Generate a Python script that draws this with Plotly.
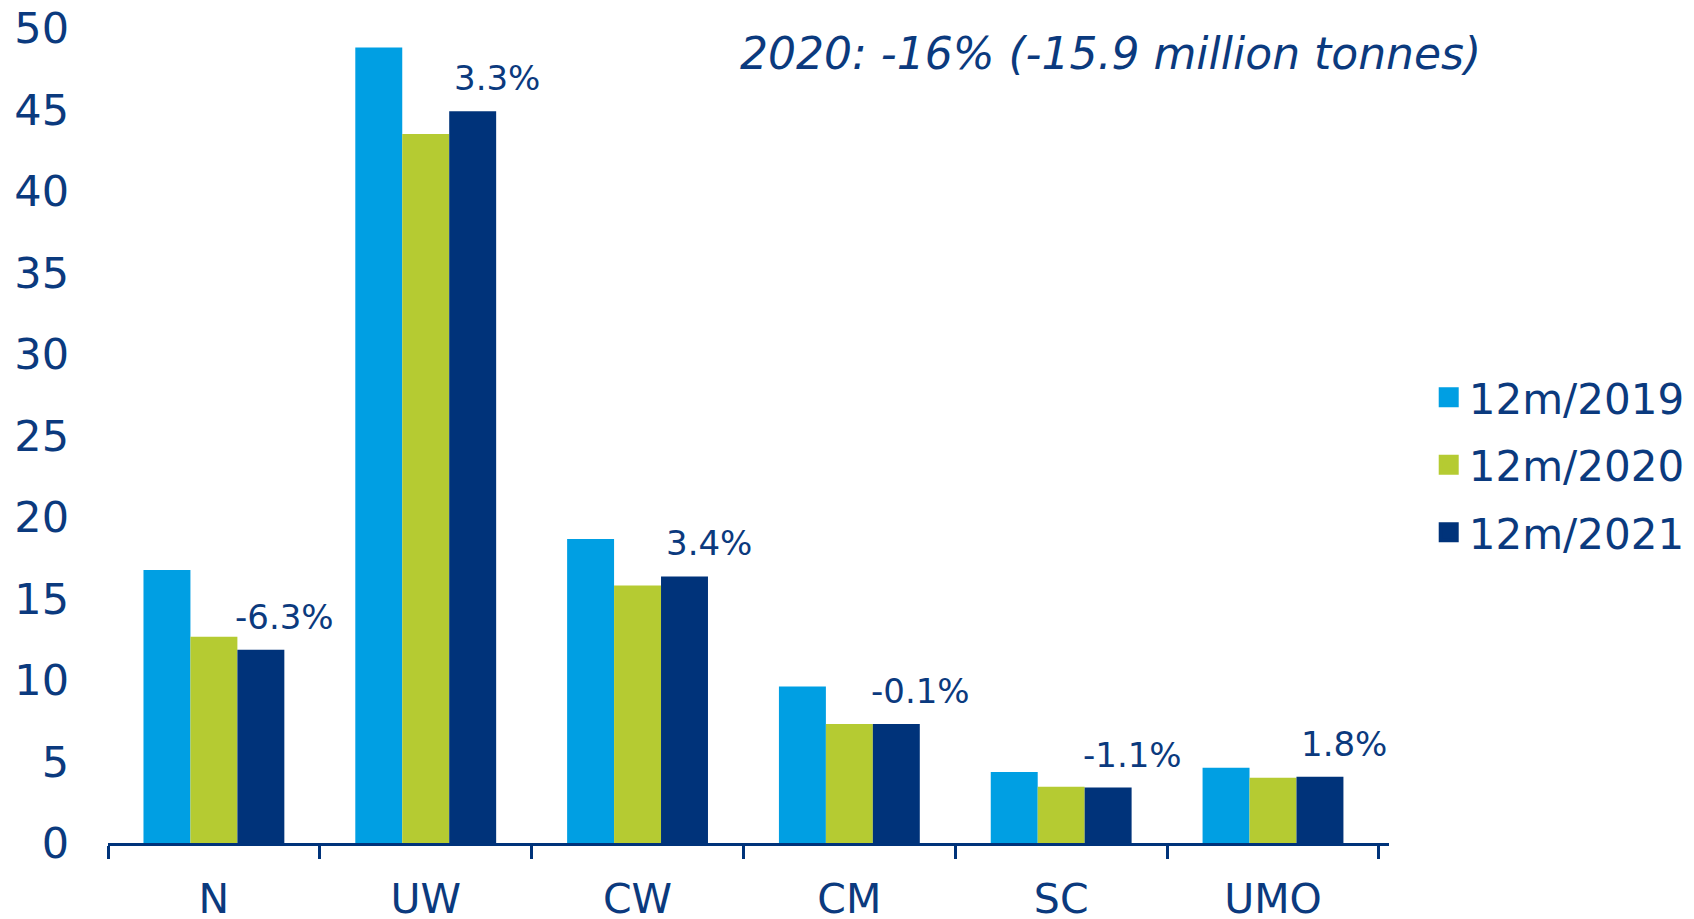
import plotly.graph_objects as go

categories = ["N", "UW", "CW", "CM", "SC", "UMO"]
series_names = ["12m/2019", "12m/2020", "12m/2021"]
values_2019 = [16.75, 48.8, 18.65, 9.6, 4.35, 4.62]
values_2020 = [12.65, 43.5, 15.8, 7.3, 3.45, 4.0]
values_2021 = [11.85, 44.9, 16.35, 7.3, 3.4, 4.07]
change_labels = ["-6.3%", "3.3%", "3.4%", "-0.1%", "-1.1%", "1.8%"]
y_ticks = [0, 5, 10, 15, 20, 25, 30, 35, 40, 45, 50]
headline = "2020: -16% (-15.9 million tonnes)"

colors = ["#009FE3", "#B5CB32", "#00337A"]
text_color = "#0B3A7E"
font_family = "DejaVu Sans, Verdana, sans-serif"

fig = go.Figure()
for name, vals, col in zip(series_names, [values_2019, values_2020, values_2021], colors):
    fig.add_trace(go.Bar(x=categories, y=vals, name=name, marker_color=col,
                         marker_line_width=0, showlegend=False))
# legend entries with larger square swatches
for i, (name, col) in enumerate(zip(series_names, colors)):
    fig.add_trace(go.Scatter(x=[None], y=[None], mode="markers", name=name,
                             legendgroup=f"g{i}",
                             marker=dict(symbol="square", size=16, color=col,
                                         line=dict(color=col, width=4))))

for cat, val, lab in zip(categories, values_2021, change_labels):
    fig.add_annotation(x=cat, y=val, xref="x", yref="y", text=lab, showarrow=False,
                       xanchor="center", yanchor="bottom", xshift=71, yshift=11,
                       font=dict(size=34, color=text_color, family=font_family))

fig.add_annotation(x=0.7827, y=0.969, xref="paper", yref="paper", text=f"<i>{headline}</i>",
                   showarrow=False, xanchor="center", yanchor="middle",
                   font=dict(size=44, color=text_color, family=font_family))

# page body adds an 8px margin, so the figure is sized to fit the window
fig.update_layout(
    width=1686, height=911,
    margin=dict(l=100, r=305, t=20, b=76, autoexpand=False),
    paper_bgcolor="white", plot_bgcolor="white",
    barmode="group", bargap=0.335, bargroupgap=0,
    font=dict(family=font_family, color=text_color),
    legend=dict(x=1.031, y=0.464, xanchor="left", yanchor="middle",
                font=dict(size=42, color=text_color), tracegroupgap=10,
                bgcolor="rgba(0,0,0,0)"),
    xaxis=dict(showline=True, linecolor="#00337A", linewidth=3,
               ticks="outside", tickson="boundaries", ticklen=13, tickwidth=3,
               tickcolor="#00337A", tickfont=dict(size=41, color=text_color),
               ticklabelstandoff=18, ticklabeloverflow="allow",
               showgrid=False, zeroline=False, automargin=False),
    yaxis=dict(range=[0, 50], tickvals=y_ticks, showgrid=False, zeroline=False,
               showline=False, ticks="", tickfont=dict(size=43, color=text_color),
               ticklabelstandoff=38, ticklabeloverflow="allow", automargin=False),
)

fig.write_html("out.html")
